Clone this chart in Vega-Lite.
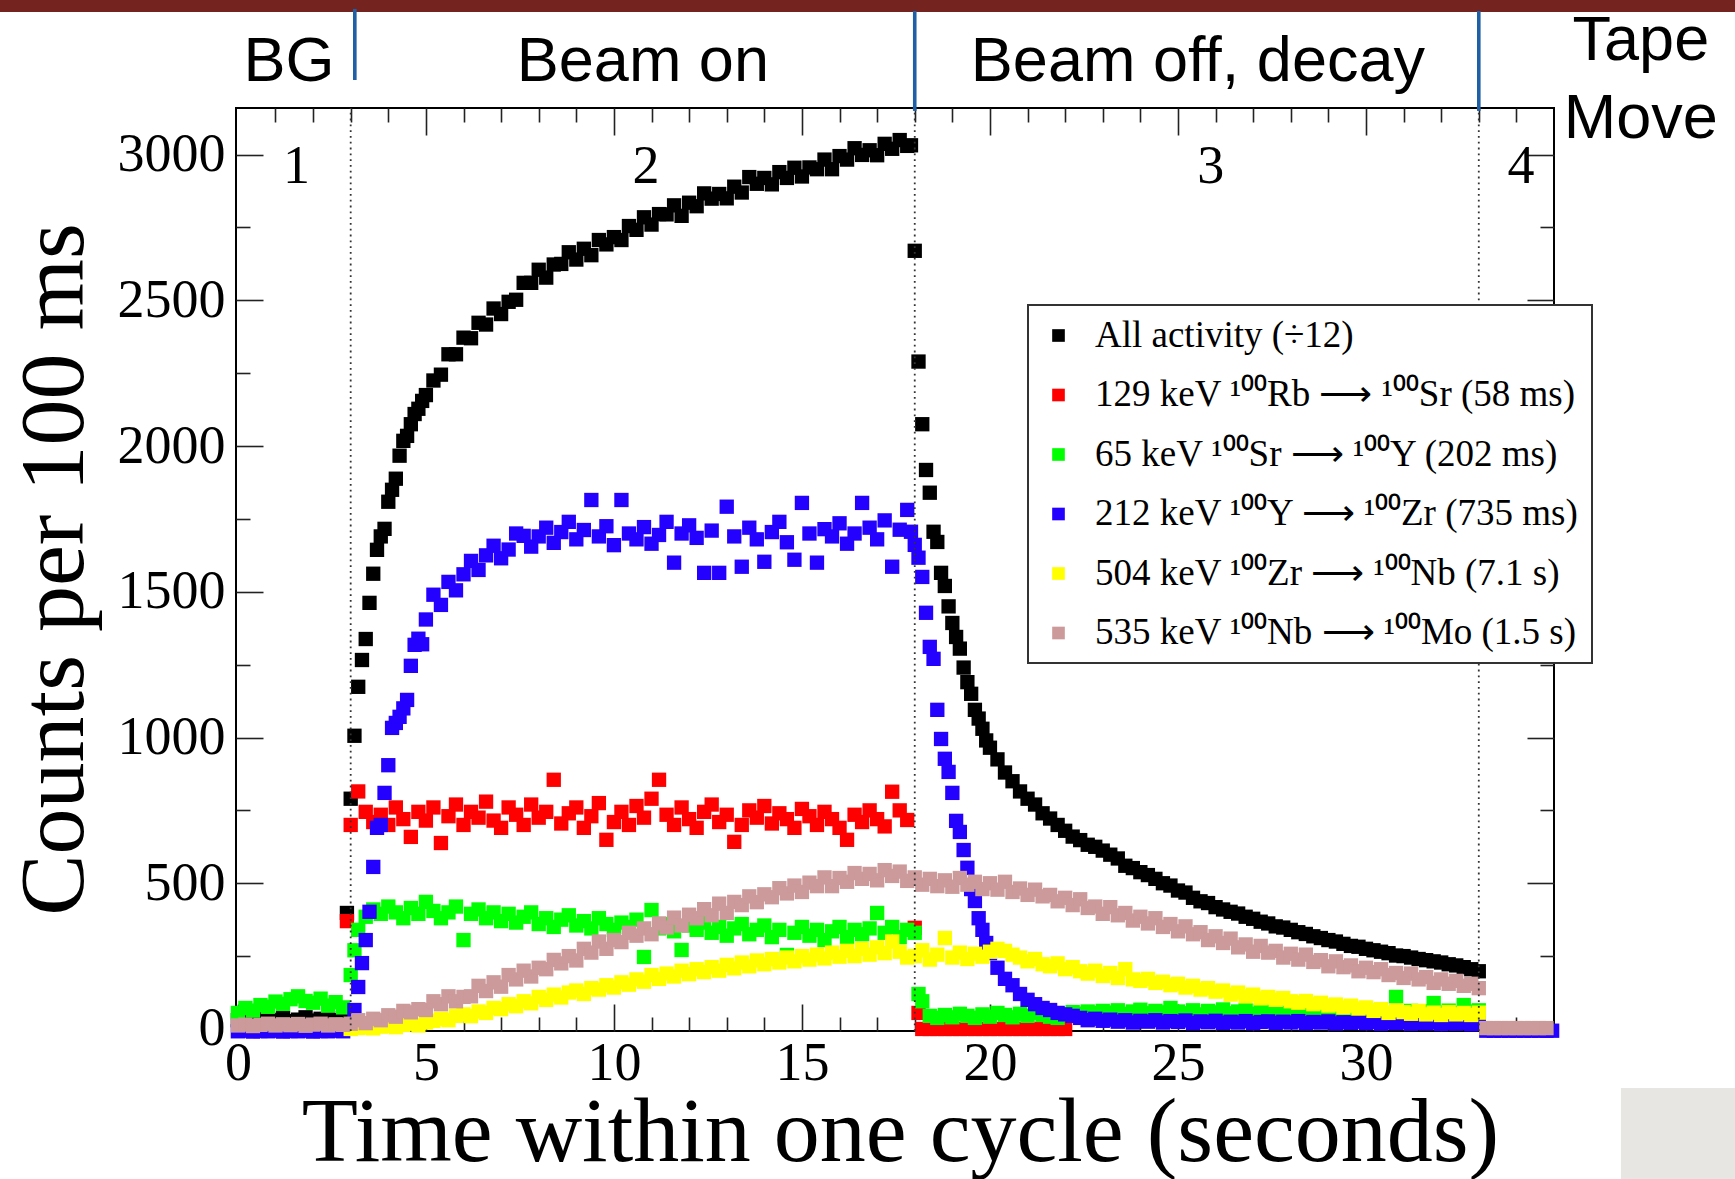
{
"$schema":"https://vega.github.io/schema/vega-lite/v6.json",
"width":1318,"height":923,
"autosize":{"type":"none"},
"padding":{"left":236,"top":108,"right":181,"bottom":148},
"background":"white",
"config":{
 "view":{"stroke":"#000","strokeWidth":2},
 "legend":{"strokeWidth":2},
 "axis":{"domain":false,"grid":false,"tickColor":"#222","tickWidth":1.6,"labelFont":"Liberation Serif","labelFontSize":54,"labelColor":"#000","labelFlush":false,"labelOverlap":false,"titleFont":"Liberation Serif","titleFontSize":92,"titleFontWeight":"normal","titleColor":"#000","zindex":1}
},
"resolve":{"axis":{"x":"independent","y":"independent"}},
"layer":[
{"data":{"values":[{}]},"mark":{"type":"rect","color":"#74231f"},
 "encoding":{"x":{"datum":-6.4,"type":"quantitative","scale":{"domain":[-0.05,35],"nice":false,"zero":false},"axis":null},"x2":{"datum":40},
 "y":{"datum":3489,"type":"quantitative","scale":{"domain":[-7,3160],"nice":false,"zero":false},"axis":null},"y2":{"datum":3560}}},
{"data":{"values":[
{"s":"a","t":0,"v":30},{"s":"a","t":0.2,"v":26},{"s":"a","t":0.4,"v":33},{"s":"a","t":0.6,"v":36},{"s":"a","t":0.8,"v":28},{"s":"a","t":1,"v":31},{"s":"a","t":1.2,"v":38},{"s":"a","t":1.4,"v":27},{"s":"a","t":1.6,"v":32},{"s":"a","t":1.8,"v":40},{"s":"a","t":2,"v":29},{"s":"a","t":2.2,"v":35},{"s":"a","t":2.4,"v":37},{"s":"a","t":2.6,"v":30},{"s":"a","t":2.8,"v":34},
{"s":"a","t":2.9,"v":398},{"s":"a","t":3,"v":790},{"s":"a","t":3.1,"v":1006},{"s":"a","t":3.2,"v":1174},{"s":"a","t":3.3,"v":1266},{"s":"a","t":3.4,"v":1338},{"s":"a","t":3.5,"v":1462},{"s":"a","t":3.6,"v":1562},{"s":"a","t":3.7,"v":1644},{"s":"a","t":3.8,"v":1690},{"s":"a","t":3.9,"v":1716},{"s":"a","t":4,"v":1809},{"s":"a","t":4.1,"v":1850},{"s":"a","t":4.2,"v":1888},{"s":"a","t":4.3,"v":1967},{"s":"a","t":4.4,"v":2018},{"s":"a","t":4.5,"v":2035},{"s":"a","t":4.6,"v":2075},{"s":"a","t":4.7,"v":2110},{"s":"a","t":4.8,"v":2128},{"s":"a","t":4.9,"v":2155},{"s":"a","t":5,"v":2175},
{"s":"a","t":5.2,"v":2225},{"s":"a","t":5.4,"v":2245},{"s":"a","t":5.6,"v":2315},{"s":"a","t":5.8,"v":2315},{"s":"a","t":6,"v":2372},{"s":"a","t":6.2,"v":2370},{"s":"a","t":6.4,"v":2423},{"s":"a","t":6.6,"v":2417},{"s":"a","t":6.8,"v":2472},{"s":"a","t":7,"v":2453},{"s":"a","t":7.2,"v":2495},{"s":"a","t":7.4,"v":2502},{"s":"a","t":7.6,"v":2560},{"s":"a","t":7.8,"v":2560},{"s":"a","t":8,"v":2605},{"s":"a","t":8.2,"v":2578},{"s":"a","t":8.4,"v":2623},{"s":"a","t":8.6,"v":2625},{"s":"a","t":8.8,"v":2665},{"s":"a","t":9,"v":2640},{"s":"a","t":9.2,"v":2677},{"s":"a","t":9.4,"v":2655},{"s":"a","t":9.6,"v":2707},{"s":"a","t":9.8,"v":2692},{"s":"a","t":10,"v":2717},{"s":"a","t":10.2,"v":2707},{"s":"a","t":10.4,"v":2755},{"s":"a","t":10.6,"v":2742},{"s":"a","t":10.8,"v":2785},{"s":"a","t":11,"v":2760},{"s":"a","t":11.2,"v":2796},{"s":"a","t":11.4,"v":2795},{"s":"a","t":11.6,"v":2826},{"s":"a","t":11.8,"v":2790},{"s":"a","t":12,"v":2835},{"s":"a","t":12.2,"v":2823},{"s":"a","t":12.4,"v":2867},{"s":"a","t":12.6,"v":2849},{"s":"a","t":12.8,"v":2865},{"s":"a","t":13,"v":2850},{"s":"a","t":13.2,"v":2890},{"s":"a","t":13.4,"v":2870},{"s":"a","t":13.6,"v":2923},{"s":"a","t":13.8,"v":2900},{"s":"a","t":14,"v":2920},{"s":"a","t":14.2,"v":2898},{"s":"a","t":14.4,"v":2940},{"s":"a","t":14.6,"v":2920},{"s":"a","t":14.8,"v":2955},{"s":"a","t":15,"v":2925},{"s":"a","t":15.2,"v":2956},{"s":"a","t":15.4,"v":2950},{"s":"a","t":15.6,"v":2983},{"s":"a","t":15.8,"v":2950},{"s":"a","t":16,"v":2995},{"s":"a","t":16.2,"v":2983},{"s":"a","t":16.4,"v":3022},{"s":"a","t":16.6,"v":2999},{"s":"a","t":16.8,"v":3015},{"s":"a","t":17,"v":2998},{"s":"a","t":17.2,"v":3037},{"s":"a","t":17.4,"v":3020},{"s":"a","t":17.6,"v":3050},{"s":"a","t":17.8,"v":3030},{"s":"a","t":17.9,"v":3032},
{"s":"a","t":18,"v":2670},{"s":"a","t":18.1,"v":2290},{"s":"a","t":18.2,"v":2075},{"s":"a","t":18.3,"v":1918},{"s":"a","t":18.4,"v":1840},{"s":"a","t":18.5,"v":1706},{"s":"a","t":18.6,"v":1671},{"s":"a","t":18.7,"v":1565},{"s":"a","t":18.8,"v":1520},{"s":"a","t":18.9,"v":1450},{"s":"a","t":19,"v":1393},{"s":"a","t":19.1,"v":1345},{"s":"a","t":19.2,"v":1305},{"s":"a","t":19.3,"v":1240},{"s":"a","t":19.4,"v":1190},{"s":"a","t":19.5,"v":1150},{"s":"a","t":19.6,"v":1095},{"s":"a","t":19.7,"v":1065},{"s":"a","t":19.8,"v":1030},{"s":"a","t":19.9,"v":990},{"s":"a","t":20,"v":965},
{"s":"a","t":20.2,"v":925},{"s":"a","t":20.4,"v":880},{"s":"a","t":20.6,"v":850},{"s":"a","t":20.8,"v":815},{"s":"a","t":21,"v":790},{"s":"a","t":21.2,"v":770},{"s":"a","t":21.4,"v":740},{"s":"a","t":21.6,"v":722},{"s":"a","t":21.8,"v":700},{"s":"a","t":22,"v":680},{"s":"a","t":22.2,"v":660},{"s":"a","t":22.4,"v":648},{"s":"a","t":22.6,"v":632},{"s":"a","t":22.8,"v":625},{"s":"a","t":23,"v":612},{"s":"a","t":23.2,"v":598},{"s":"a","t":23.4,"v":585},{"s":"a","t":23.6,"v":560},{"s":"a","t":23.8,"v":552},{"s":"a","t":24,"v":538},{"s":"a","t":24.2,"v":528},{"s":"a","t":24.4,"v":515},{"s":"a","t":24.6,"v":500},{"s":"a","t":24.8,"v":492},{"s":"a","t":25,"v":475},{"s":"a","t":25.2,"v":468},{"s":"a","t":25.4,"v":450},{"s":"a","t":25.6,"v":438},{"s":"a","t":25.8,"v":432},{"s":"a","t":26,"v":418},{"s":"a","t":26.2,"v":410},{"s":"a","t":26.4,"v":402},{"s":"a","t":26.6,"v":396},{"s":"a","t":26.8,"v":385},{"s":"a","t":27,"v":378},{"s":"a","t":27.2,"v":368},{"s":"a","t":27.4,"v":362},{"s":"a","t":27.6,"v":352},{"s":"a","t":27.8,"v":348},{"s":"a","t":28,"v":340},{"s":"a","t":28.2,"v":332},{"s":"a","t":28.4,"v":326},{"s":"a","t":28.6,"v":318},{"s":"a","t":28.8,"v":312},{"s":"a","t":29,"v":305},{"s":"a","t":29.2,"v":300},{"s":"a","t":29.4,"v":292},{"s":"a","t":29.6,"v":285},{"s":"a","t":29.8,"v":282},{"s":"a","t":30,"v":275},{"s":"a","t":30.2,"v":270},{"s":"a","t":30.4,"v":265},{"s":"a","t":30.6,"v":260},{"s":"a","t":30.8,"v":252},{"s":"a","t":31,"v":250},{"s":"a","t":31.2,"v":245},{"s":"a","t":31.4,"v":240},{"s":"a","t":31.6,"v":236},{"s":"a","t":31.8,"v":232},{"s":"a","t":32,"v":228},{"s":"a","t":32.2,"v":222},{"s":"a","t":32.4,"v":218},{"s":"a","t":32.6,"v":212},{"s":"a","t":32.8,"v":205},{"s":"a","t":33,"v":198},
{"s":"b","t":2.9,"v":370},{"s":"b","t":3,"v":700},{"s":"b","t":3.2,"v":815},{"s":"b","t":3.4,"v":745},{"s":"b","t":3.6,"v":710},{"s":"b","t":3.8,"v":735},{"s":"b","t":4,"v":700},{"s":"b","t":4.2,"v":760},{"s":"b","t":4.4,"v":720},{"s":"b","t":4.6,"v":659},{"s":"b","t":4.8,"v":745},{"s":"b","t":5,"v":715},{"s":"b","t":5.2,"v":760},{"s":"b","t":5.4,"v":638},{"s":"b","t":5.6,"v":730},{"s":"b","t":5.8,"v":770},{"s":"b","t":6,"v":700},{"s":"b","t":6.2,"v":745},{"s":"b","t":6.4,"v":725},{"s":"b","t":6.6,"v":780},{"s":"b","t":6.8,"v":715},{"s":"b","t":7,"v":690},{"s":"b","t":7.2,"v":760},{"s":"b","t":7.4,"v":735},{"s":"b","t":7.6,"v":700},{"s":"b","t":7.8,"v":770},{"s":"b","t":8,"v":725},{"s":"b","t":8.2,"v":745},{"s":"b","t":8.4,"v":855},{"s":"b","t":8.6,"v":705},{"s":"b","t":8.8,"v":740},{"s":"b","t":9,"v":760},{"s":"b","t":9.2,"v":690},{"s":"b","t":9.4,"v":730},{"s":"b","t":9.6,"v":775},{"s":"b","t":9.8,"v":649},{"s":"b","t":10,"v":710},{"s":"b","t":10.2,"v":745},{"s":"b","t":10.4,"v":700},{"s":"b","t":10.6,"v":765},{"s":"b","t":10.8,"v":725},{"s":"b","t":11,"v":790},{"s":"b","t":11.2,"v":855},{"s":"b","t":11.4,"v":735},{"s":"b","t":11.6,"v":700},{"s":"b","t":11.8,"v":760},{"s":"b","t":12,"v":720},{"s":"b","t":12.2,"v":690},{"s":"b","t":12.4,"v":745},{"s":"b","t":12.6,"v":770},{"s":"b","t":12.8,"v":710},{"s":"b","t":13,"v":735},{"s":"b","t":13.2,"v":642},{"s":"b","t":13.4,"v":700},{"s":"b","t":13.6,"v":750},{"s":"b","t":13.8,"v":725},{"s":"b","t":14,"v":765},{"s":"b","t":14.2,"v":705},{"s":"b","t":14.4,"v":740},{"s":"b","t":14.6,"v":720},{"s":"b","t":14.8,"v":690},{"s":"b","t":15,"v":755},{"s":"b","t":15.2,"v":730},{"s":"b","t":15.4,"v":700},{"s":"b","t":15.6,"v":745},{"s":"b","t":15.8,"v":720},{"s":"b","t":16,"v":690},{"s":"b","t":16.2,"v":649},{"s":"b","t":16.4,"v":735},{"s":"b","t":16.6,"v":710},{"s":"b","t":16.8,"v":750},{"s":"b","t":17,"v":720},{"s":"b","t":17.2,"v":695},{"s":"b","t":17.4,"v":814},{"s":"b","t":17.6,"v":750},{"s":"b","t":17.8,"v":717},{"s":"b","t":18,"v":347},{"s":"b","t":18.1,"v":55},
{"s":"b","t":18.2,"v":0},{"s":"b","t":18.4,"v":0},{"s":"b","t":18.6,"v":0},{"s":"b","t":18.8,"v":0},{"s":"b","t":19,"v":0},{"s":"b","t":19.2,"v":0},{"s":"b","t":19.4,"v":0},{"s":"b","t":19.6,"v":0},{"s":"b","t":19.8,"v":0},{"s":"b","t":20,"v":0},{"s":"b","t":20.2,"v":0},{"s":"b","t":20.4,"v":0},{"s":"b","t":20.6,"v":0},{"s":"b","t":20.8,"v":0},{"s":"b","t":21,"v":0},{"s":"b","t":21.2,"v":0},{"s":"b","t":21.4,"v":0},{"s":"b","t":21.6,"v":0},{"s":"b","t":21.8,"v":0},{"s":"b","t":22,"v":0},
{"s":"c","t":0,"v":55},{"s":"c","t":0.2,"v":72},{"s":"c","t":0.4,"v":63},{"s":"c","t":0.6,"v":82},{"s":"c","t":0.8,"v":76},{"s":"c","t":1,"v":94},{"s":"c","t":1.2,"v":86},{"s":"c","t":1.4,"v":102},{"s":"c","t":1.6,"v":112},{"s":"c","t":1.8,"v":96},{"s":"c","t":2,"v":90},{"s":"c","t":2.2,"v":104},{"s":"c","t":2.4,"v":80},{"s":"c","t":2.6,"v":92},{"s":"c","t":2.8,"v":74},
{"s":"c","t":3,"v":185},{"s":"c","t":3.1,"v":270},{"s":"c","t":3.2,"v":340},{"s":"c","t":3.4,"v":385},{"s":"c","t":3.6,"v":410},{"s":"c","t":3.8,"v":395},{"s":"c","t":4,"v":420},{"s":"c","t":4.2,"v":400},{"s":"c","t":4.4,"v":380},{"s":"c","t":4.6,"v":415},{"s":"c","t":4.8,"v":395},{"s":"c","t":5,"v":436},{"s":"c","t":5.2,"v":405},{"s":"c","t":5.4,"v":380},{"s":"c","t":5.6,"v":400},{"s":"c","t":5.8,"v":420},{"s":"c","t":6,"v":305},{"s":"c","t":6.2,"v":395},{"s":"c","t":6.4,"v":410},{"s":"c","t":6.6,"v":380},{"s":"c","t":6.8,"v":400},{"s":"c","t":7,"v":370},{"s":"c","t":7.2,"v":395},{"s":"c","t":7.4,"v":365},{"s":"c","t":7.6,"v":385},{"s":"c","t":7.8,"v":400},{"s":"c","t":8,"v":360},{"s":"c","t":8.2,"v":380},{"s":"c","t":8.4,"v":350},{"s":"c","t":8.6,"v":375},{"s":"c","t":8.8,"v":390},{"s":"c","t":9,"v":355},{"s":"c","t":9.2,"v":370},{"s":"c","t":9.4,"v":345},{"s":"c","t":9.6,"v":380},{"s":"c","t":9.8,"v":360},{"s":"c","t":10,"v":340},{"s":"c","t":10.2,"v":365},{"s":"c","t":10.4,"v":350},{"s":"c","t":10.6,"v":375},{"s":"c","t":10.8,"v":247},{"s":"c","t":11,"v":408},{"s":"c","t":11.2,"v":345},{"s":"c","t":11.4,"v":360},{"s":"c","t":11.6,"v":335},{"s":"c","t":11.8,"v":271},{"s":"c","t":12,"v":355},{"s":"c","t":12.2,"v":340},{"s":"c","t":12.4,"v":365},{"s":"c","t":12.6,"v":330},{"s":"c","t":12.8,"v":350},{"s":"c","t":13,"v":320},{"s":"c","t":13.2,"v":345},{"s":"c","t":13.4,"v":360},{"s":"c","t":13.6,"v":325},{"s":"c","t":13.8,"v":340},{"s":"c","t":14,"v":355},{"s":"c","t":14.2,"v":315},{"s":"c","t":14.4,"v":340},{"s":"c","t":14.6,"v":254},{"s":"c","t":14.8,"v":330},{"s":"c","t":15,"v":350},{"s":"c","t":15.2,"v":320},{"s":"c","t":15.4,"v":340},{"s":"c","t":15.6,"v":305},{"s":"c","t":15.8,"v":335},{"s":"c","t":16,"v":350},{"s":"c","t":16.2,"v":315},{"s":"c","t":16.4,"v":340},{"s":"c","t":16.6,"v":325},{"s":"c","t":16.8,"v":345},{"s":"c","t":17,"v":398},{"s":"c","t":17.2,"v":330},{"s":"c","t":17.4,"v":350},{"s":"c","t":17.6,"v":315},{"s":"c","t":17.8,"v":340},
{"s":"c","t":18,"v":330},{"s":"c","t":18.1,"v":120},{"s":"c","t":18.2,"v":95},{"s":"c","t":18.4,"v":45},{"s":"c","t":18.6,"v":38},{"s":"c","t":18.8,"v":48},{"s":"c","t":19,"v":40},{"s":"c","t":19.2,"v":52},{"s":"c","t":19.4,"v":45},{"s":"c","t":19.6,"v":38},{"s":"c","t":19.8,"v":50},{"s":"c","t":20,"v":42},{"s":"c","t":20.2,"v":55},{"s":"c","t":20.4,"v":48},{"s":"c","t":20.6,"v":40},{"s":"c","t":20.8,"v":52},{"s":"c","t":21,"v":45},{"s":"c","t":21.2,"v":55},{"s":"c","t":21.4,"v":48},{"s":"c","t":21.6,"v":42},{"s":"c","t":21.8,"v":38},{"s":"c","t":22,"v":50},{"s":"c","t":22.2,"v":58},{"s":"c","t":22.4,"v":52},{"s":"c","t":22.6,"v":60},{"s":"c","t":22.8,"v":55},{"s":"c","t":23,"v":62},{"s":"c","t":23.2,"v":56},{"s":"c","t":23.4,"v":64},{"s":"c","t":23.6,"v":52},{"s":"c","t":23.8,"v":60},{"s":"c","t":24,"v":66},{"s":"c","t":24.2,"v":54},{"s":"c","t":24.4,"v":62},{"s":"c","t":24.6,"v":57},{"s":"c","t":24.8,"v":72},{"s":"c","t":25,"v":60},{"s":"c","t":25.2,"v":54},{"s":"c","t":25.4,"v":64},{"s":"c","t":25.6,"v":50},{"s":"c","t":25.8,"v":62},{"s":"c","t":26,"v":57},{"s":"c","t":26.2,"v":67},{"s":"c","t":26.4,"v":54},{"s":"c","t":26.6,"v":60},{"s":"c","t":26.8,"v":64},{"s":"c","t":27,"v":52},{"s":"c","t":27.2,"v":62},{"s":"c","t":27.4,"v":57},{"s":"c","t":27.6,"v":70},{"s":"c","t":27.8,"v":54},{"s":"c","t":28,"v":60},{"s":"c","t":28.2,"v":64},{"s":"c","t":28.4,"v":57},{"s":"c","t":28.6,"v":52},{"s":"c","t":28.8,"v":62},{"s":"c","t":29,"v":58},{"s":"c","t":29.2,"v":54},{"s":"c","t":29.4,"v":64},{"s":"c","t":29.6,"v":56},{"s":"c","t":29.8,"v":60},{"s":"c","t":30,"v":55},{"s":"c","t":30.2,"v":62},{"s":"c","t":30.4,"v":58},{"s":"c","t":30.6,"v":52},{"s":"c","t":30.8,"v":110},{"s":"c","t":31,"v":58},{"s":"c","t":31.2,"v":62},{"s":"c","t":31.4,"v":55},{"s":"c","t":31.6,"v":60},{"s":"c","t":31.8,"v":89},{"s":"c","t":32,"v":57},{"s":"c","t":32.2,"v":63},{"s":"c","t":32.4,"v":55},{"s":"c","t":32.6,"v":82},{"s":"c","t":32.8,"v":60},{"s":"c","t":33,"v":64},
{"s":"d","t":0,"v":-8},{"s":"d","t":0.2,"v":-6},{"s":"d","t":0.4,"v":-9},{"s":"d","t":0.6,"v":-7},{"s":"d","t":0.8,"v":-8},{"s":"d","t":1,"v":-6},{"s":"d","t":1.2,"v":-9},{"s":"d","t":1.4,"v":-7},{"s":"d","t":1.6,"v":-8},{"s":"d","t":1.8,"v":-6},{"s":"d","t":2,"v":-9},{"s":"d","t":2.2,"v":-7},{"s":"d","t":2.4,"v":-8},{"s":"d","t":2.6,"v":-6},{"s":"d","t":2.8,"v":-8},
{"s":"d","t":3,"v":15},{"s":"d","t":3.1,"v":65},{"s":"d","t":3.2,"v":144},{"s":"d","t":3.3,"v":226},{"s":"d","t":3.4,"v":305},{"s":"d","t":3.5,"v":402},{"s":"d","t":3.6,"v":556},{"s":"d","t":3.7,"v":690},{"s":"d","t":3.8,"v":700},{"s":"d","t":3.9,"v":810},{"s":"d","t":4,"v":905},{"s":"d","t":4.1,"v":1033},{"s":"d","t":4.2,"v":1050},{"s":"d","t":4.3,"v":1071},{"s":"d","t":4.4,"v":1100},{"s":"d","t":4.5,"v":1129},{"s":"d","t":4.6,"v":1246},{"s":"d","t":4.7,"v":1318},{"s":"d","t":4.8,"v":1339},{"s":"d","t":4.9,"v":1320},{"s":"d","t":5,"v":1405},
{"s":"d","t":5.2,"v":1490},{"s":"d","t":5.4,"v":1455},{"s":"d","t":5.6,"v":1534},{"s":"d","t":5.8,"v":1505},{"s":"d","t":6,"v":1560},{"s":"d","t":6.2,"v":1606},{"s":"d","t":6.4,"v":1575},{"s":"d","t":6.6,"v":1625},{"s":"d","t":6.8,"v":1658},{"s":"d","t":7,"v":1615},{"s":"d","t":7.2,"v":1645},{"s":"d","t":7.4,"v":1700},{"s":"d","t":7.6,"v":1692},{"s":"d","t":7.8,"v":1655},{"s":"d","t":8,"v":1690},{"s":"d","t":8.2,"v":1720},{"s":"d","t":8.4,"v":1668},{"s":"d","t":8.6,"v":1705},{"s":"d","t":8.8,"v":1740},{"s":"d","t":9,"v":1680},{"s":"d","t":9.2,"v":1712},{"s":"d","t":9.4,"v":1815},{"s":"d","t":9.6,"v":1690},{"s":"d","t":9.8,"v":1725},{"s":"d","t":10,"v":1660},{"s":"d","t":10.2,"v":1815},{"s":"d","t":10.4,"v":1700},{"s":"d","t":10.6,"v":1680},{"s":"d","t":10.8,"v":1722},{"s":"d","t":11,"v":1665},{"s":"d","t":11.2,"v":1695},{"s":"d","t":11.4,"v":1740},{"s":"d","t":11.6,"v":1600},{"s":"d","t":11.8,"v":1700},{"s":"d","t":12,"v":1728},{"s":"d","t":12.2,"v":1685},{"s":"d","t":12.4,"v":1565},{"s":"d","t":12.6,"v":1710},{"s":"d","t":12.8,"v":1565},{"s":"d","t":13,"v":1792},{"s":"d","t":13.2,"v":1690},{"s":"d","t":13.4,"v":1586},{"s":"d","t":13.6,"v":1720},{"s":"d","t":13.8,"v":1680},{"s":"d","t":14,"v":1603},{"s":"d","t":14.2,"v":1705},{"s":"d","t":14.4,"v":1740},{"s":"d","t":14.6,"v":1670},{"s":"d","t":14.8,"v":1610},{"s":"d","t":15,"v":1805},{"s":"d","t":15.2,"v":1700},{"s":"d","t":15.4,"v":1600},{"s":"d","t":15.6,"v":1715},{"s":"d","t":15.8,"v":1690},{"s":"d","t":16,"v":1735},{"s":"d","t":16.2,"v":1665},{"s":"d","t":16.4,"v":1700},{"s":"d","t":16.6,"v":1805},{"s":"d","t":16.8,"v":1720},{"s":"d","t":17,"v":1680},{"s":"d","t":17.2,"v":1745},{"s":"d","t":17.4,"v":1586},{"s":"d","t":17.6,"v":1713},{"s":"d","t":17.8,"v":1781},{"s":"d","t":17.9,"v":1706},
{"s":"d","t":18,"v":1661},{"s":"d","t":18.1,"v":1617},{"s":"d","t":18.2,"v":1551},{"s":"d","t":18.3,"v":1428},{"s":"d","t":18.4,"v":1311},{"s":"d","t":18.5,"v":1270},{"s":"d","t":18.6,"v":1095},{"s":"d","t":18.7,"v":995},{"s":"d","t":18.8,"v":927},{"s":"d","t":18.9,"v":882},{"s":"d","t":19,"v":810},{"s":"d","t":19.1,"v":714},{"s":"d","t":19.2,"v":676},{"s":"d","t":19.3,"v":614},{"s":"d","t":19.4,"v":553},{"s":"d","t":19.5,"v":480},{"s":"d","t":19.6,"v":439},{"s":"d","t":19.7,"v":380},{"s":"d","t":19.8,"v":340},{"s":"d","t":19.9,"v":295},{"s":"d","t":20,"v":260},
{"s":"d","t":20.2,"v":210},{"s":"d","t":20.4,"v":172},{"s":"d","t":20.6,"v":150},{"s":"d","t":20.8,"v":120},{"s":"d","t":21,"v":100},{"s":"d","t":21.2,"v":85},{"s":"d","t":21.4,"v":72},{"s":"d","t":21.6,"v":65},{"s":"d","t":21.8,"v":55},{"s":"d","t":22,"v":50},{"s":"d","t":22.2,"v":45},{"s":"d","t":22.4,"v":38},{"s":"d","t":22.6,"v":30},{"s":"d","t":22.8,"v":35},{"s":"d","t":23,"v":28},{"s":"d","t":23.2,"v":32},{"s":"d","t":23.4,"v":25},{"s":"d","t":23.6,"v":30},{"s":"d","t":23.8,"v":22},{"s":"d","t":24,"v":28},{"s":"d","t":24.2,"v":25},{"s":"d","t":24.4,"v":30},{"s":"d","t":24.6,"v":22},{"s":"d","t":24.8,"v":27},{"s":"d","t":25,"v":24},{"s":"d","t":25.2,"v":29},{"s":"d","t":25.4,"v":20},{"s":"d","t":25.6,"v":26},{"s":"d","t":25.8,"v":23},{"s":"d","t":26,"v":28},{"s":"d","t":26.2,"v":21},{"s":"d","t":26.4,"v":25},{"s":"d","t":26.6,"v":22},{"s":"d","t":26.8,"v":27},{"s":"d","t":27,"v":20},{"s":"d","t":27.2,"v":24},{"s":"d","t":27.4,"v":26},{"s":"d","t":27.6,"v":21},{"s":"d","t":27.8,"v":25},{"s":"d","t":28,"v":22},{"s":"d","t":28.2,"v":27},{"s":"d","t":28.4,"v":20},{"s":"d","t":28.6,"v":24},{"s":"d","t":28.8,"v":22},{"s":"d","t":29,"v":26},{"s":"d","t":29.2,"v":19},{"s":"d","t":29.4,"v":23},{"s":"d","t":29.6,"v":21},{"s":"d","t":29.8,"v":25},{"s":"d","t":30,"v":20},{"s":"d","t":30.2,"v":24},{"s":"d","t":30.4,"v":18},{"s":"d","t":30.6,"v":22},{"s":"d","t":30.8,"v":20},{"s":"d","t":31,"v":23},{"s":"d","t":31.2,"v":18},{"s":"d","t":31.4,"v":21},{"s":"d","t":31.6,"v":19},{"s":"d","t":31.8,"v":22},{"s":"d","t":32,"v":17},{"s":"d","t":32.2,"v":20},{"s":"d","t":32.4,"v":18},{"s":"d","t":32.6,"v":21},{"s":"d","t":32.8,"v":16},{"s":"d","t":33,"v":19},
{"s":"d","t":33.2,"v":-6},{"s":"d","t":33.4,"v":-6},{"s":"d","t":33.6,"v":-6},{"s":"d","t":33.8,"v":-6},{"s":"d","t":34,"v":-6},{"s":"d","t":34.2,"v":-6},{"s":"d","t":34.4,"v":-6},{"s":"d","t":34.6,"v":-6},{"s":"d","t":34.8,"v":-6},{"s":"d","t":34.95,"v":-6},
{"s":"e","t":3,"v":0},{"s":"e","t":3.2,"v":3},{"s":"e","t":3.4,"v":5},{"s":"e","t":3.6,"v":2},{"s":"e","t":3.8,"v":8},{"s":"e","t":4,"v":10},{"s":"e","t":4.2,"v":6},{"s":"e","t":4.4,"v":14},{"s":"e","t":4.6,"v":18},{"s":"e","t":4.8,"v":12},{"s":"e","t":5,"v":22},{"s":"e","t":5.2,"v":28},{"s":"e","t":5.4,"v":35},{"s":"e","t":5.6,"v":30},{"s":"e","t":5.8,"v":45},{"s":"e","t":6,"v":50},{"s":"e","t":6.2,"v":44},{"s":"e","t":6.4,"v":60},{"s":"e","t":6.6,"v":55},{"s":"e","t":6.8,"v":72},{"s":"e","t":7,"v":68},{"s":"e","t":7.2,"v":85},{"s":"e","t":7.4,"v":78},{"s":"e","t":7.6,"v":95},{"s":"e","t":7.8,"v":88},{"s":"e","t":8,"v":110},{"s":"e","t":8.2,"v":100},{"s":"e","t":8.4,"v":118},{"s":"e","t":8.6,"v":108},{"s":"e","t":8.8,"v":125},{"s":"e","t":9,"v":132},{"s":"e","t":9.2,"v":120},{"s":"e","t":9.4,"v":140},{"s":"e","t":9.6,"v":135},{"s":"e","t":9.8,"v":150},{"s":"e","t":10,"v":142},{"s":"e","t":10.2,"v":160},{"s":"e","t":10.4,"v":152},{"s":"e","t":10.6,"v":170},{"s":"e","t":10.8,"v":162},{"s":"e","t":11,"v":185},{"s":"e","t":11.2,"v":172},{"s":"e","t":11.4,"v":190},{"s":"e","t":11.6,"v":180},{"s":"e","t":11.8,"v":200},{"s":"e","t":12,"v":188},{"s":"e","t":12.2,"v":205},{"s":"e","t":12.4,"v":195},{"s":"e","t":12.6,"v":212},{"s":"e","t":12.8,"v":200},{"s":"e","t":13,"v":220},{"s":"e","t":13.2,"v":208},{"s":"e","t":13.4,"v":228},{"s":"e","t":13.6,"v":215},{"s":"e","t":13.8,"v":235},{"s":"e","t":14,"v":222},{"s":"e","t":14.2,"v":240},{"s":"e","t":14.4,"v":228},{"s":"e","t":14.6,"v":245},{"s":"e","t":14.8,"v":232},{"s":"e","t":15,"v":250},{"s":"e","t":15.2,"v":238},{"s":"e","t":15.4,"v":255},{"s":"e","t":15.6,"v":242},{"s":"e","t":15.8,"v":262},{"s":"e","t":16,"v":248},{"s":"e","t":16.2,"v":268},{"s":"e","t":16.4,"v":250},{"s":"e","t":16.6,"v":275},{"s":"e","t":16.8,"v":255},{"s":"e","t":17,"v":280},{"s":"e","t":17.2,"v":260},{"s":"e","t":17.4,"v":300},{"s":"e","t":17.6,"v":265},{"s":"e","t":17.8,"v":245},
{"s":"e","t":18,"v":250},{"s":"e","t":18.2,"v":270},{"s":"e","t":18.4,"v":238},{"s":"e","t":18.6,"v":255},{"s":"e","t":18.8,"v":312},{"s":"e","t":19,"v":245},{"s":"e","t":19.2,"v":262},{"s":"e","t":19.4,"v":240},{"s":"e","t":19.6,"v":258},{"s":"e","t":19.8,"v":248},{"s":"e","t":20,"v":265},{"s":"e","t":20.2,"v":275},{"s":"e","t":20.4,"v":268},{"s":"e","t":20.6,"v":255},{"s":"e","t":20.8,"v":245},{"s":"e","t":21,"v":232},{"s":"e","t":21.2,"v":240},{"s":"e","t":21.4,"v":222},{"s":"e","t":21.6,"v":215},{"s":"e","t":21.8,"v":225},{"s":"e","t":22,"v":205},{"s":"e","t":22.2,"v":212},{"s":"e","t":22.4,"v":198},{"s":"e","t":22.6,"v":190},{"s":"e","t":22.8,"v":200},{"s":"e","t":23,"v":182},{"s":"e","t":23.2,"v":192},{"s":"e","t":23.4,"v":175},{"s":"e","t":23.6,"v":205},{"s":"e","t":23.8,"v":170},{"s":"e","t":24,"v":165},{"s":"e","t":24.2,"v":172},{"s":"e","t":24.4,"v":158},{"s":"e","t":24.6,"v":162},{"s":"e","t":24.8,"v":150},{"s":"e","t":25,"v":155},{"s":"e","t":25.2,"v":142},{"s":"e","t":25.4,"v":148},{"s":"e","t":25.6,"v":135},{"s":"e","t":25.8,"v":140},{"s":"e","t":26,"v":128},{"s":"e","t":26.2,"v":132},{"s":"e","t":26.4,"v":118},{"s":"e","t":26.6,"v":125},{"s":"e","t":26.8,"v":112},{"s":"e","t":27,"v":118},{"s":"e","t":27.2,"v":105},{"s":"e","t":27.4,"v":110},{"s":"e","t":27.6,"v":100},{"s":"e","t":27.8,"v":106},{"s":"e","t":28,"v":95},{"s":"e","t":28.2,"v":90},{"s":"e","t":28.4,"v":96},{"s":"e","t":28.6,"v":85},{"s":"e","t":28.8,"v":90},{"s":"e","t":29,"v":80},{"s":"e","t":29.2,"v":84},{"s":"e","t":29.4,"v":74},{"s":"e","t":29.6,"v":80},{"s":"e","t":29.8,"v":70},{"s":"e","t":30,"v":74},{"s":"e","t":30.2,"v":62},{"s":"e","t":30.4,"v":68},{"s":"e","t":30.6,"v":55},{"s":"e","t":30.8,"v":64},{"s":"e","t":31,"v":58},{"s":"e","t":31.2,"v":52},{"s":"e","t":31.4,"v":62},{"s":"e","t":31.6,"v":50},{"s":"e","t":31.8,"v":56},{"s":"e","t":32,"v":48},{"s":"e","t":32.2,"v":58},{"s":"e","t":32.4,"v":50},{"s":"e","t":32.6,"v":55},{"s":"e","t":32.8,"v":48},{"s":"e","t":33,"v":56},
{"s":"f","t":0,"v":12},{"s":"f","t":0.2,"v":15},{"s":"f","t":0.4,"v":10},{"s":"f","t":0.6,"v":14},{"s":"f","t":0.8,"v":18},{"s":"f","t":1,"v":12},{"s":"f","t":1.2,"v":16},{"s":"f","t":1.4,"v":13},{"s":"f","t":1.6,"v":17},{"s":"f","t":1.8,"v":11},{"s":"f","t":2,"v":15},{"s":"f","t":2.2,"v":18},{"s":"f","t":2.4,"v":12},{"s":"f","t":2.6,"v":16},{"s":"f","t":2.8,"v":14},
{"s":"f","t":3,"v":18},{"s":"f","t":3.2,"v":30},{"s":"f","t":3.4,"v":20},{"s":"f","t":3.6,"v":35},{"s":"f","t":3.8,"v":30},{"s":"f","t":4,"v":47},{"s":"f","t":4.2,"v":42},{"s":"f","t":4.4,"v":62},{"s":"f","t":4.6,"v":57},{"s":"f","t":4.8,"v":68},{"s":"f","t":5,"v":65},{"s":"f","t":5.2,"v":95},{"s":"f","t":5.4,"v":85},{"s":"f","t":5.6,"v":112},{"s":"f","t":5.8,"v":95},{"s":"f","t":6,"v":110},{"s":"f","t":6.2,"v":112},{"s":"f","t":6.4,"v":148},{"s":"f","t":6.6,"v":130},{"s":"f","t":6.8,"v":160},{"s":"f","t":7,"v":145},{"s":"f","t":7.2,"v":185},{"s":"f","t":7.4,"v":170},{"s":"f","t":7.6,"v":200},{"s":"f","t":7.8,"v":180},{"s":"f","t":8,"v":210},{"s":"f","t":8.2,"v":205},{"s":"f","t":8.4,"v":237},{"s":"f","t":8.6,"v":225},{"s":"f","t":8.8,"v":250},{"s":"f","t":9,"v":235},{"s":"f","t":9.2,"v":275},{"s":"f","t":9.4,"v":262},{"s":"f","t":9.6,"v":300},{"s":"f","t":9.8,"v":275},{"s":"f","t":10,"v":305},{"s":"f","t":10.2,"v":298},{"s":"f","t":10.4,"v":330},{"s":"f","t":10.6,"v":320},{"s":"f","t":10.8,"v":345},{"s":"f","t":11,"v":325},{"s":"f","t":11.2,"v":362},{"s":"f","t":11.4,"v":348},{"s":"f","t":11.6,"v":382},{"s":"f","t":11.8,"v":355},{"s":"f","t":12,"v":392},{"s":"f","t":12.2,"v":380},{"s":"f","t":12.4,"v":411},{"s":"f","t":12.6,"v":390},{"s":"f","t":12.8,"v":430},{"s":"f","t":13,"v":398},{"s":"f","t":13.2,"v":436},{"s":"f","t":13.4,"v":425},{"s":"f","t":13.6,"v":455},{"s":"f","t":13.8,"v":435},{"s":"f","t":14,"v":462},{"s":"f","t":14.2,"v":452},{"s":"f","t":14.4,"v":483},{"s":"f","t":14.6,"v":465},{"s":"f","t":14.8,"v":492},{"s":"f","t":15,"v":470},{"s":"f","t":15.2,"v":502},{"s":"f","t":15.4,"v":490},{"s":"f","t":15.6,"v":520},{"s":"f","t":15.8,"v":490},{"s":"f","t":16,"v":518},{"s":"f","t":16.2,"v":505},{"s":"f","t":16.4,"v":535},{"s":"f","t":16.6,"v":515},{"s":"f","t":16.8,"v":532},{"s":"f","t":17,"v":510},{"s":"f","t":17.2,"v":545},{"s":"f","t":17.4,"v":525},{"s":"f","t":17.6,"v":540},{"s":"f","t":17.8,"v":508},
{"s":"f","t":18,"v":520},{"s":"f","t":18.2,"v":495},{"s":"f","t":18.4,"v":515},{"s":"f","t":18.6,"v":490},{"s":"f","t":18.8,"v":510},{"s":"f","t":19,"v":488},{"s":"f","t":19.2,"v":518},{"s":"f","t":19.4,"v":495},{"s":"f","t":19.6,"v":505},{"s":"f","t":19.8,"v":480},{"s":"f","t":20,"v":500},{"s":"f","t":20.2,"v":478},{"s":"f","t":20.4,"v":505},{"s":"f","t":20.6,"v":470},{"s":"f","t":20.8,"v":482},{"s":"f","t":21,"v":460},{"s":"f","t":21.2,"v":478},{"s":"f","t":21.4,"v":455},{"s":"f","t":21.6,"v":460},{"s":"f","t":21.8,"v":438},{"s":"f","t":22,"v":450},{"s":"f","t":22.2,"v":425},{"s":"f","t":22.4,"v":445},{"s":"f","t":22.6,"v":415},{"s":"f","t":22.8,"v":420},{"s":"f","t":23,"v":395},{"s":"f","t":23.2,"v":418},{"s":"f","t":23.4,"v":390},{"s":"f","t":23.6,"v":398},{"s":"f","t":23.8,"v":372},{"s":"f","t":24,"v":385},{"s":"f","t":24.2,"v":362},{"s":"f","t":24.4,"v":380},{"s":"f","t":24.6,"v":350},{"s":"f","t":24.8,"v":360},{"s":"f","t":25,"v":335},{"s":"f","t":25.2,"v":352},{"s":"f","t":25.4,"v":325},{"s":"f","t":25.6,"v":332},{"s":"f","t":25.8,"v":305},{"s":"f","t":26,"v":318},{"s":"f","t":26.2,"v":295},{"s":"f","t":26.4,"v":310},{"s":"f","t":26.6,"v":280},{"s":"f","t":26.8,"v":290},{"s":"f","t":27,"v":265},{"s":"f","t":27.2,"v":285},{"s":"f","t":27.4,"v":262},{"s":"f","t":27.6,"v":268},{"s":"f","t":27.8,"v":245},{"s":"f","t":28,"v":258},{"s":"f","t":28.2,"v":238},{"s":"f","t":28.4,"v":255},{"s":"f","t":28.6,"v":230},{"s":"f","t":28.8,"v":236},{"s":"f","t":29,"v":215},{"s":"f","t":29.2,"v":232},{"s":"f","t":29.4,"v":212},{"s":"f","t":29.6,"v":218},{"s":"f","t":29.8,"v":198},{"s":"f","t":30,"v":210},{"s":"f","t":30.2,"v":195},{"s":"f","t":30.4,"v":205},{"s":"f","t":30.6,"v":185},{"s":"f","t":30.8,"v":192},{"s":"f","t":31,"v":175},{"s":"f","t":31.2,"v":190},{"s":"f","t":31.4,"v":170},{"s":"f","t":31.6,"v":178},{"s":"f","t":31.8,"v":158},{"s":"f","t":32,"v":170},{"s":"f","t":32.2,"v":155},{"s":"f","t":32.4,"v":165},{"s":"f","t":32.6,"v":148},{"s":"f","t":32.8,"v":155},{"s":"f","t":33,"v":140},
{"s":"f","t":33.2,"v":3},{"s":"f","t":33.4,"v":3},{"s":"f","t":33.6,"v":3},{"s":"f","t":33.8,"v":3},{"s":"f","t":34,"v":3},{"s":"f","t":34.2,"v":3},{"s":"f","t":34.4,"v":3},{"s":"f","t":34.6,"v":3},{"s":"f","t":34.8,"v":3}
]},
 "mark":{"type":"square","size":205,"opacity":1},
 "encoding":{
  "x":{"field":"t","type":"quantitative","scale":{"domain":[-0.05,35],"nice":false,"zero":false},
   "axis":{"orient":"bottom","values":[0,5,10,15,20,25,30],"tickSize":-27,"labelPadding":32,"title":"Time within one cycle (seconds)","titleX":664,"titleY":129,"titleBaseline":"alphabetic","titleAlign":"center"}},
  "y":{"field":"v","type":"quantitative","scale":{"domain":[-7,3160],"nice":false,"zero":false},
   "axis":{"orient":"left","values":[0,500,1000,1500,2000,2500,3000],"format":"d","tickSize":-27,"labelPadding":38,"title":"Counts per 100 ms","titleX":-154,"titleY":461,"titleAngle":270,"titleBaseline":"alphabetic","titleAlign":"center"}},
  "color":{"field":"s","type":"nominal","scale":{"domain":["a","b","c","d","e","f"],"range":["#000000","#ff0000","#00ff00","#2400ff","#ffff00","#cc9a9a"]},
   "legend":{"orient":"none","legendX":792,"legendY":197,"direction":"vertical","title":null,"symbolType":"square","symbolSize":160,"symbolStrokeWidth":0,"symbolOffset":0,"labelFont":"Liberation Serif","labelFontSize":37,"labelColor":"#000","labelLimit":0,"labelOffset":18,"padding":12,"rowPadding":21.5,"strokeColor":"#333","fillColor":"#ffffff","zindex":2,
   "labelExpr":"datum.value=='a'?'All activity (÷12)':datum.value=='b'?'129 keV ¹⁰⁰Rb ⟶ ¹⁰⁰Sr (58 ms)':datum.value=='c'?'65 keV ¹⁰⁰Sr ⟶ ¹⁰⁰Y (202 ms)':datum.value=='d'?'212 keV ¹⁰⁰Y ⟶ ¹⁰⁰Zr (735 ms)':datum.value=='e'?'504 keV ¹⁰⁰Zr ⟶ ¹⁰⁰Nb (7.1 s)':'535 keV ¹⁰⁰Nb ⟶ ¹⁰⁰Mo (1.5 s)'"}}
 }},
{"data":{"values":[{"t":3},{"t":18},{"t":33}]},
 "mark":{"type":"rule","color":"#333","strokeWidth":1.8,"strokeDash":[1.8,4]},
 "encoding":{
  "x":{"field":"t","type":"quantitative","scale":{"domain":[-0.05,35],"nice":false,"zero":false},
   "axis":{"orient":"bottom","values":[1,2,3,4,6,7,8,9,11,12,13,14,16,17,18,19,21,22,23,24,26,27,28,29,31,32,33,34],"tickSize":-14,"labels":false,"title":null}},
  "y":{"datum":-7,"type":"quantitative","scale":{"domain":[-7,3160],"nice":false,"zero":false},
   "axis":{"orient":"left","values":[250,750,1250,1750,2250,2750],"tickSize":-14,"labels":false,"title":null}},
  "y2":{"datum":3160}}},
{"data":{"values":[{"n":"1","t":1.56},{"n":"2","t":10.85},{"n":"3","t":25.87},{"n":"4","t":34.12}]},
 "mark":{"type":"text","font":"Liberation Serif","fontSize":54,"baseline":"alphabetic","align":"center","color":"#000"},
 "encoding":{
  "x":{"field":"t","type":"quantitative","scale":{"domain":[-0.05,35],"nice":false,"zero":false},
   "axis":{"orient":"top","values":[5,10,15,20,25,30],"tickSize":-27,"labels":false,"title":null}},
  "y":{"datum":2904,"type":"quantitative","scale":{"domain":[-7,3160],"nice":false,"zero":false},
   "axis":{"orient":"right","values":[500,1000,1500,2000,2500,3000],"tickSize":-27,"labels":false,"title":null}},
  "text":{"field":"n"}}},
{"data":{"values":[{"t":18},{"t":33}]},
 "mark":{"type":"rule","color":"#1f5fa5","strokeWidth":3.6},
 "encoding":{
  "x":{"field":"t","type":"quantitative","scale":{"domain":[-0.05,35],"nice":false,"zero":false},
   "axis":{"orient":"top","values":[1,2,3,4,6,7,8,9,11,12,13,14,16,17,18,19,21,22,23,24,26,27,28,29,31,32,33,34],"tickSize":-14,"labels":false,"title":null}},
  "y":{"datum":3150,"type":"quantitative","scale":{"domain":[-7,3160],"nice":false,"zero":false},
   "axis":{"orient":"right","values":[250,750,1250,1750,2250,2750],"tickSize":-14,"labels":false,"title":null}},
  "y2":{"datum":3493}}},
{"data":{"values":[{}]},
 "mark":{"type":"rule","color":"#1f5fa5","strokeWidth":3.6},
 "encoding":{
  "x":{"datum":3.11,"type":"quantitative","scale":{"domain":[-0.05,35],"nice":false,"zero":false},"axis":null},
  "y":{"datum":3256,"type":"quantitative","scale":{"domain":[-7,3160],"nice":false,"zero":false},"axis":null},
  "y2":{"datum":3500}}},
{"data":{"values":[{"label":"BG","t":1.36},{"label":"Beam on","t":10.77},{"label":"Beam off, decay","t":25.53}]},
 "mark":{"type":"text","font":"Liberation Sans","fontSize":63,"baseline":"alphabetic","align":"center","color":"#000"},
 "encoding":{
  "x":{"field":"t","type":"quantitative","scale":{"domain":[-0.05,35],"nice":false,"zero":false},"axis":null},
  "y":{"datum":3253,"type":"quantitative","scale":{"domain":[-7,3160],"nice":false,"zero":false},"axis":null},
  "text":{"field":"label"}}},
{"data":{"values":[{}]},
 "mark":{"type":"text","text":["Tape","Move"],"lineHeight":77.5,"font":"Liberation Sans","fontSize":63,"baseline":"alphabetic","align":"center","color":"#000"},
 "encoding":{
  "x":{"datum":37.31,"type":"quantitative","scale":{"domain":[-0.05,35],"nice":false,"zero":false},"axis":null},
  "y":{"datum":3323,"type":"quantitative","scale":{"domain":[-7,3160],"nice":false,"zero":false},"axis":null}}},
{"data":{"values":[{}]},"mark":{"type":"rect","color":"#e8e6e3"},
 "encoding":{"x":{"datum":36.78,"type":"quantitative","scale":{"domain":[-0.05,35],"nice":false,"zero":false},"axis":null},"x2":{"datum":41},
 "y":{"datum":-203,"type":"quantitative","scale":{"domain":[-7,3160],"nice":false,"zero":false},"axis":null},"y2":{"datum":-600}}}
]
}
